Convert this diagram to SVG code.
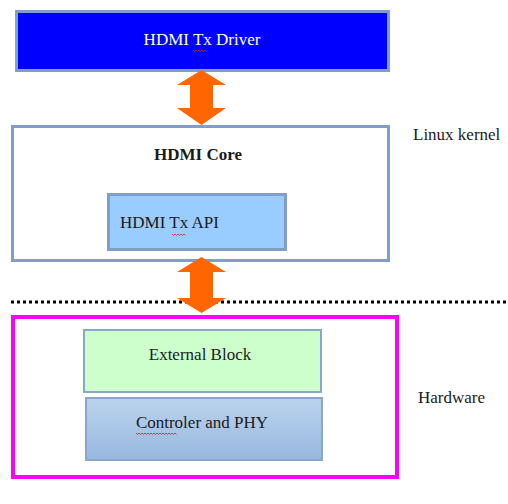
<svg xmlns="http://www.w3.org/2000/svg" width="508" height="504" viewBox="0 0 508 504">
  <style>
    text { font-family: 'Liberation Serif', 'DejaVu Serif', 'Times New Roman', Times, serif; font-size: 17px; fill: #1a1a1a; }
    .w { fill: #ffffff; }
    .b { font-weight: bold; }
    .box { stroke: #7f9fc8; stroke-width: 3; }
    .arrow { fill: #ff6600; }
    .squig { fill: none; stroke: #d02020; stroke-width: 0.8; }
  </style>
  <defs>
    <linearGradient id="gPhy" x1="0" y1="0" x2="0" y2="1">
      <stop offset="0" stop-color="#bcd3ee"/>
      <stop offset="1" stop-color="#97b8df"/>
    </linearGradient>
  </defs>
  <rect width="508" height="504" fill="#ffffff"/>

  <g id="driver">
    <rect class="box" x="16.5" y="11.5" width="372" height="59" fill="#0000ff"/>
    <text class="w" x="202" y="45" text-anchor="middle" font-family="Liberation Serif, serif">HDMI Tx Driver</text>
    <path class="squig" d="M193 50 l1.5 1.5 l1.5 -1.5 l1.5 1.5 l1.5 -1.5 l1.5 1.5 l1.5 -1.5 l1.5 1.5 l1.5 -1.5 l1.5 1.5"/>
  </g>

  <g id="core">
    <rect class="box" x="12.5" y="126.5" width="376" height="134" fill="#ffffff"/>
    <text class="b" x="198" y="160" text-anchor="middle" font-family="Liberation Serif, serif">HDMI Core</text>
  </g>

  <g id="api">
    <rect class="box" x="108.5" y="194.5" width="177" height="55" fill="#99ccff"/>
    <text x="120" y="228" font-family="Liberation Serif, serif">HDMI Tx API</text>
    <path class="squig" d="M172 234 l1.5 1.5 l1.5 -1.5 l1.5 1.5 l1.5 -1.5 l1.5 1.5 l1.5 -1.5 l1.5 1.5 l1.5 -1.5 l1.5 1.5"/>
  </g>

  <text id="linux-kernel" x="413" y="140" font-family="Liberation Serif, serif">Linux kernel</text>

  <line x1="11" y1="302" x2="508" y2="302" stroke="#000000" stroke-width="3" stroke-dasharray="3 3"/>

  <g id="hardware">
    <rect x="13" y="317" width="384" height="160" fill="#ffffff" stroke="#ff00ff" stroke-width="4"/>
  </g>

  <g id="external">
    <rect x="84" y="330" width="237" height="62" fill="#ccffcc" stroke="#8aa6c8" stroke-width="2"/>
    <text x="200" y="360" text-anchor="middle" font-family="Liberation Serif, serif">External Block</text>
  </g>

  <g id="phy">
    <rect x="86" y="398" width="236" height="62" fill="url(#gPhy)" stroke="#8aa6c8" stroke-width="2"/>
    <text x="202" y="428" text-anchor="middle" font-family="Liberation Serif, serif">Controler and PHY</text>
    <path class="squig" d="M136 433 l1.5 1.5 l1.5 -1.5 l1.5 1.5 l1.5 -1.5 l1.5 1.5 l1.5 -1.5 l1.5 1.5 l1.5 -1.5 l1.5 1.5 l1.5 -1.5 l1.5 1.5 l1.5 -1.5 l1.5 1.5 l1.5 -1.5 l1.5 1.5 l1.5 -1.5 l1.5 1.5 l1.5 -1.5 l1.5 1.5 l1.5 -1.5 l1.5 1.5 l1.5 -1.5 l1.5 1.5 l1.5 -1.5 l1.5 1.5 l1.5 -1.5 l1.5 1.5"/>
  </g>

  <text id="hardware-label" x="418" y="403" font-family="Liberation Serif, serif">Hardware</text>

  <g id="connectors">
    <polygon class="arrow" points="201.5,70 226,85 213,85 213,108 226,108 201.5,125 177,108 190,108 190,85 177,85"/>
    <polygon class="arrow" points="201.5,257 226,272 213,272 213,298 226,298 201.5,313 177,298 190,298 190,272 177,272"/>
  </g>
</svg>
